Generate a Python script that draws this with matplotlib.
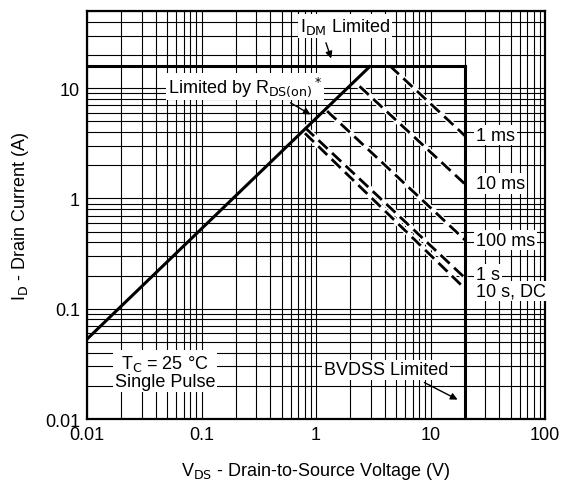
import matplotlib.pyplot as plt
from matplotlib.ticker import LogLocator, FixedLocator, FixedFormatter

plt.rcParams['font.family'] = ['Liberation Sans', 'DejaVu Sans']

# limits of the safe operating area
rds_v = [0.01, 3.0]
rds_i = [0.053, 16.0]
idm_v = [0.01, 20.0]
idm_i = [16.0, 16.0]
bv_v = [20.0, 20.0]
bv_i = [0.01, 16.0]

# pulse lines: start and end points
pulse_names = ['1 ms', '10 ms', '100 ms', '1 s', '10 s, DC']
pulse_v = [[4.4, 20], [2.4, 20], [1.25, 20], [0.8, 20], [0.8, 20]]
pulse_i = [[16, 3.7], [10.4, 1.35], [6.2, 0.42], [4.4, 0.19], [3.9, 0.152]]
label_i = [3.74, 1.37, 0.42, 0.205, 0.145]

x_ticks = [0.01, 0.1, 1, 10, 100]
x_labels = ['0.01', '0.1', '1', '10', '100']
y_ticks = [0.01, 0.1, 1, 10]
y_labels = ['0.01', '0.1', '1', '10']

fs = 13

fig = plt.figure(figsize=(5.66, 4.81), dpi=100)
ax = fig.add_axes([0.1537, 0.1268, 0.8093, 0.848])
ax.set_xscale('log')
ax.set_yscale('log')
ax.set_xlim(0.01, 100)
ax.set_ylim(0.01, 50)

ax.xaxis.set_major_locator(FixedLocator(x_ticks))
ax.xaxis.set_major_formatter(FixedFormatter(x_labels))
ax.yaxis.set_major_locator(FixedLocator(y_ticks))
ax.yaxis.set_major_formatter(FixedFormatter(y_labels))
ax.xaxis.set_minor_locator(LogLocator(base=10, subs=range(2, 10)))
ax.yaxis.set_minor_locator(LogLocator(base=10, subs=range(2, 10)))
ax.xaxis.set_minor_formatter(FixedFormatter([]))
ax.yaxis.set_minor_formatter(FixedFormatter([]))
ax.grid(True, which='both', color='black', lw=0.8)
ax.tick_params(which='both', length=0, labelsize=fs, pad=5)
for s in ax.spines.values():
    s.set_linewidth(1.6)

ax.plot(rds_v, rds_i, color='black', lw=2.2, solid_capstyle='butt', zorder=4)
ax.plot(idm_v, idm_i, color='black', lw=2.2, zorder=4)
ax.plot(bv_v, bv_i, color='black', lw=2.2, zorder=4)

for vv, ii in zip(pulse_v, pulse_i):
    ax.plot(vv, ii, color='white', lw=4, zorder=3)
    ax.plot(vv, ii, color='black', lw=2.0, dashes=(4.5, 2.2), zorder=3.5)

box = dict(facecolor='white', edgecolor='none', pad=1.2)
for name, li in zip(pulse_names, label_i):
    ax.text(25, li, name, fontsize=fs, va='center', ha='left', bbox=box, zorder=5)

ax.text(1.79, 36.6, r'I$_{\mathrm{DM}}$ Limited', fontsize=fs, ha='center', va='center',
        bbox=box, zorder=5)
ax.annotate('', xy=(1.38, 17.6), xytext=(1.2, 27.3),
            arrowprops=dict(arrowstyle='-|>', color='black', lw=1.0, mutation_scale=10),
            zorder=5)
ax.text(0.24, 10.4, r'Limited by R$_{\mathrm{DS(on)}}$$^*$', fontsize=fs, ha='center',
        va='center', bbox=box, zorder=5)
ax.annotate('', xy=(0.94, 5.6), xytext=(0.57, 7.6),
            arrowprops=dict(arrowstyle='-|>', color='black', lw=1.0, mutation_scale=10),
            zorder=5)
ax.text(0.048, 0.027, 'T$_\\mathrm{C}$ = 25 °C\nSingle Pulse', fontsize=fs, ha='center',
        va='center', linespacing=1.0, bbox=box, zorder=5)
ax.text(4.1, 0.028, 'BVDSS Limited', fontsize=fs, ha='center', va='center',
        bbox=box, zorder=5)
ax.annotate('', xy=(18.1, 0.0146), xytext=(8.4, 0.022),
            arrowprops=dict(arrowstyle='-|>', color='black', lw=1.0, mutation_scale=10),
            zorder=5)

ax.set_xlabel(r'V$_{\mathrm{DS}}$ - Drain-to-Source Voltage (V)', fontsize=fs, labelpad=12)
ax.set_ylabel(r'I$_{\mathrm{D}}$ - Drain Current (A)', fontsize=fs, labelpad=10)

fig.savefig('out.png', dpi=100)
